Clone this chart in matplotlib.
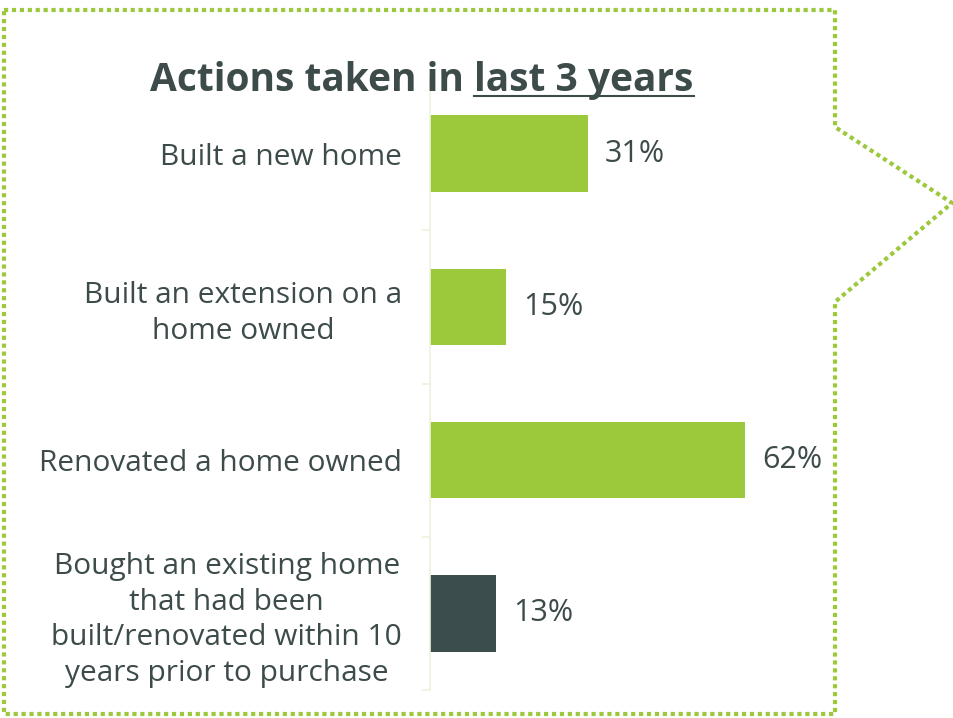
import matplotlib
matplotlib.use("Agg")
import matplotlib.pyplot as plt
from matplotlib.lines import Line2D

# data
categories = [
    "Built a new home",
    "Built an extension on a\nhome owned",
    "Renovated a home owned",
    "Bought an existing home\nthat had been\nbuilt/renovated within 10\nyears prior to purchase",
]
values = [31, 15, 62, 13]
bar_colors = ["#9bc93b", "#9bc93b", "#9bc93b", "#3b4d4c"]

text_color = "#3d4b4b"
green = "#9bc93b"
plt.rcParams["font.family"] = ["Open Sans", "DejaVu Sans"]

W, H = 954, 718
fig = plt.figure(figsize=(W / 100, H / 100), dpi=100)

ax = fig.add_axes([430 / W, 1 - 690 / H, 407 / W, 613 / H])
y = list(range(len(categories)))
ax.barh(y, values, height=0.5, color=bar_colors)
ax.set_xlim(0, 80)
ax.set_ylim(3.5, -0.5)

for yi, v in zip(y, values):
    ax.text(v + 3.4, yi, f"{v}%", va="center", ha="left",
            fontsize=22, color=text_color)

ax.set_yticks(y)
ax.set_yticklabels(categories, fontsize=21.5, color=text_color,
                   multialignment="center", linespacing=1.3)
ax.tick_params(axis="y", which="major", length=0, pad=20)
ax.set_yticks([0.5, 1.5, 2.5, 3.5], minor=True)
ax.tick_params(axis="y", which="minor", length=6, width=1.2, color="#eef2de")
ax.set_xticks([])
for s in ["top", "right", "bottom"]:
    ax.spines[s].set_visible(False)
ax.spines["left"].set_color("#eef2de")
ax.spines["left"].set_linewidth(1.2)
ax.spines["left"].set_bounds(-0.5, 3.5)

# title with underline on the last part
title_kw = dict(fontsize=28, fontweight="bold", color=text_color)
t = fig.text(422 / W, 1 - 91 / H, "Actions taken in last 3 years",
             ha="center", va="baseline", **title_kw)
tmp = fig.text(0, 0, "last 3 years", **title_kw)
fig.canvas.draw()
r = fig.canvas.get_renderer()
bb = t.get_window_extent(r)
wpart = tmp.get_window_extent(r).width
tmp.remove()
uy = (1 - 96 / H)
fig.add_artist(Line2D([(bb.x1 - wpart) / W, bb.x1 / W], [uy, uy],
                      transform=fig.transFigure, color=text_color, lw=1.5))

# dotted callout border
pts = [(4, 10), (835, 10), (835, 127), (952, 203), (835, 302),
       (835, 714), (4, 714), (4, 10)]
xs = [p[0] / W for p in pts]
ys = [1 - p[1] / H for p in pts]
fig.add_artist(Line2D(xs, ys, transform=fig.transFigure, color=green,
                      lw=3, linestyle=(0, (1, 0.9)), dash_capstyle="butt",
                      solid_joinstyle="miter"))

fig.savefig("out.png", dpi=100)
